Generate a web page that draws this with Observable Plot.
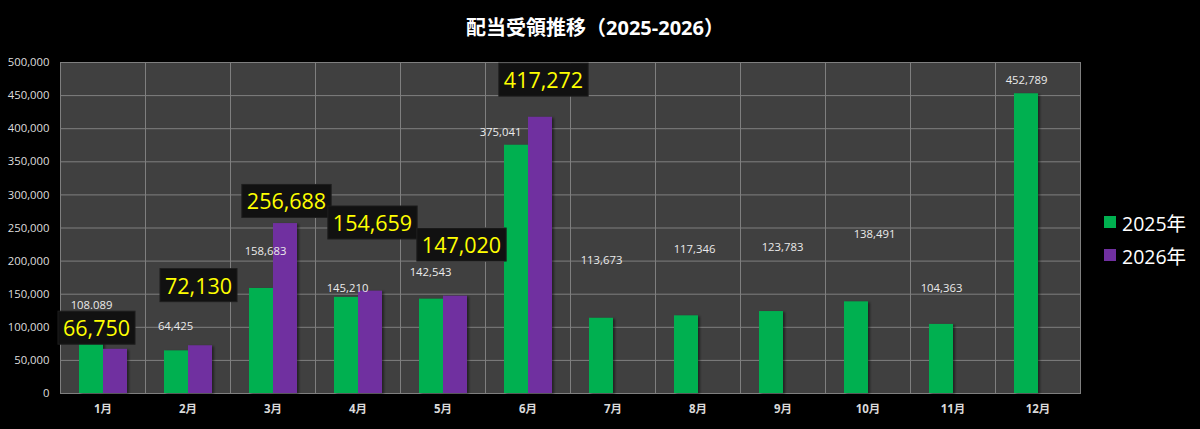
<!DOCTYPE html>
<html>
<head>
<meta charset="utf-8">
<script src="https://cdn.jsdelivr.net/npm/d3@7"></script>
<script src="https://cdn.jsdelivr.net/npm/@observablehq/plot@0.6"></script>
<style>
  html, body { margin: 0; padding: 0; background: #000; }
  body { width: 1200px; height: 429px; overflow: hidden; position: relative;
         font-family: "Open Sans", "Noto Sans CJK JP", sans-serif; }
  #title { position: absolute; left: 0; top: 0; width: 1190px; height: 50px; line-height: 56px;
           text-align: center; color: #fff; font-size: 20px; font-weight: bold;
           font-family: "Open Sans", "Noto Sans CJK JP", sans-serif; }
  #chart { position: absolute; left: 0; top: 50px; }
  .leg { position: absolute; left: 1104px; height: 24px; display: flex; align-items: center;
         color: #fff; font-size: 19.5px; font-family: "Open Sans", "Noto Sans CJK JP", sans-serif; }
  .leg span.sw { display: inline-block; width: 12px; height: 12px; margin-right: 6px; }
</style>
</head>
<body>
<div id="title">配当受領推移（2025-2026）</div>
<div id="chart"></div>
<div id="legend"></div>
<script>
// ---- data ----
const months = ["1月", "2月", "3月", "4月", "5月", "6月", "7月", "8月", "9月", "10月", "11月", "12月"];
const series = ["2025年", "2026年"];
const values2025 = [108089, 64425, 158683, 145210, 142543, 375041, 113673, 117346, 123783, 138491, 104363, 452789];
const values2026 = [66750, 72130, 256688, 154659, 147020, 417272];
const labels2025 = ["108.089", "64,425", "158,683", "145,210", "142,543", "375,041", "113,673", "117,346", "123,783", "138,491", "104,363", "452,789"];
const yTicks = [0, 50000, 100000, 150000, 200000, 250000, 300000, 350000, 400000, 450000, 500000];
const seriesColors = ["#00b050", "#7030a0"];

// ---- label placement (manual offsets of data labels, px) ----
const shift2025 = [[0, -17], [-1, -24], [4, -37], [1, -9], [-1, -27], [-16, -13], [0, -58], [8, -66], [11, -64], [18, -67], [0, -36], [0, -13]];
const shift2026 = [[-19, -20], [-2, -59], [1, -21], [2, -67], [6, -50], [3, -36]];

const rows = [];
months.forEach((m, i) => {
  rows.push({month: m, series: series[0], value: values2025[i]});
  if (i < values2026.length) rows.push({month: m, series: series[1], value: values2026[i]});
});

const font = "'Open Sans', 'Noto Sans CJK JP', sans-serif";
const fmt = d3.format(",");

const smallLabels = months.map((m, i) => Plot.text(
  [{month: m, series: series[0], value: values2025[i], label: labels2025[i]}],
  {fx: "month", x: "series", y: "value", text: "label", dx: shift2025[i][0], dy: shift2025[i][1],
   fill: "#ebebeb", fontSize: 11.3, fontFamily: font}));

const bigLabels = values2026.map((v, i) => Plot.text(
  [{month: months[i], series: series[1], value: v}],
  {fx: "month", x: "series", y: "value", text: d => fmt(d.value), dx: shift2026[i][0], dy: shift2026[i][1],
   fill: "#ffff00", fontSize: 21.5, fontFamily: font, className: "boxlabel"}));

const chart = Plot.plot({
  width: 1200,
  height: 379,
  marginTop: 12,
  marginBottom: 36,
  marginLeft: 59,
  marginRight: 119,
  style: {background: "#000", color: "#d9d9d9", fontFamily: font, fontSize: "11px"},
  fx: {domain: months, padding: 0, label: null, axis: null},
  x: {domain: series, paddingInner: 0, paddingOuter: 0.75, axis: null},
  y: {domain: [0, 500000], axis: null},
  color: {domain: series, range: seriesColors},
  marks: [
    Plot.frame({fill: "#404040"}),
    Plot.gridY(yTicks, {stroke: "#7f7f7f", strokeOpacity: 1}),
    Plot.frame({stroke: "#7f7f7f"}),
    Plot.axisY(yTicks, {tickFormat: fmt, tickSize: 0, tickPadding: 11, label: null, fill: "#dedede", fontSize: 11.3}),
    Plot.axisFx({anchor: "bottom", tickSize: 0, tickPadding: 11, label: null, fill: "#d9d9d9", fontSize: 11.5, fontWeight: "bold"}),
    Plot.barY(rows, {fx: "month", x: "series", y: "value", fill: "series", className: "bars"}),
    ...smallLabels,
    ...bigLabels
  ]
});
document.getElementById("chart").appendChild(chart);

// subtle shadow on bars
chart.querySelectorAll(".bars").forEach(g => { g.style.filter = "drop-shadow(2px 1px 1px rgba(0,0,0,0.45))"; });

// dark boxes behind the highlighted 2026 labels
chart.querySelectorAll(".boxlabel text").forEach(t => {
  const b = t.getBBox();
  const r = document.createElementNS("http://www.w3.org/2000/svg", "rect");
  r.setAttribute("x", b.x - 5);
  r.setAttribute("y", b.y + b.height / 2 - 16.5);
  r.setAttribute("width", b.width + 10);
  r.setAttribute("height", 33);
  r.setAttribute("fill", "#111111");
  r.setAttribute("stroke", "#1e1e1e");
  if (t.getAttribute("transform")) r.setAttribute("transform", t.getAttribute("transform"));
  t.parentNode.insertBefore(r, t);
});

// legend
const legend = document.getElementById("legend");
series.forEach((s, i) => {
  const d = document.createElement("div");
  d.className = "leg";
  d.style.top = (210 + i * 33) + "px";
  d.innerHTML = `<span class="sw" style="background:${seriesColors[i]}"></span>${s}`;
  legend.appendChild(d);
});
</script>
</body>
</html>
